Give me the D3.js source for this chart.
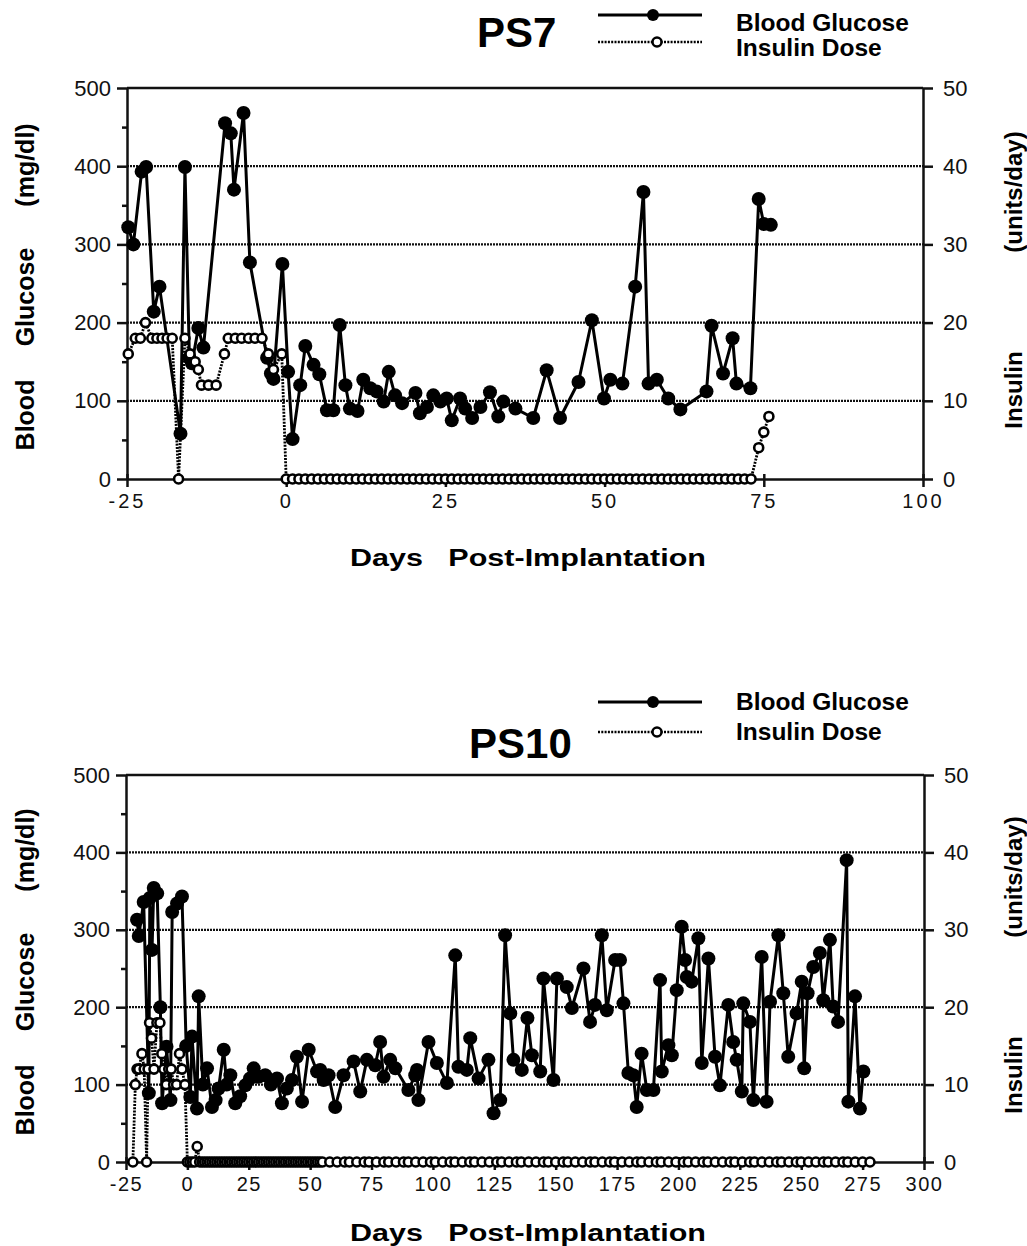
<!DOCTYPE html>
<html>
<head>
<meta charset="utf-8">
<script src="https://d3js.org/d3.v7.min.js"></script>
<style>
body{margin:0;background:#fff;}
svg{font-family:"Liberation Sans", Arial, Helvetica, sans-serif;}
.tick text{font-size:22px;fill:#111;}
.domain{stroke:#111;stroke-width:2.5;}
.tick line{stroke:#111;stroke-width:2.5;}
</style>
</head>
<body>
<svg id="chart" width="1027" height="1246"></svg>
<script>
// ---- PS7 ----
const ps7Glucose = [[-24.8,322],[-24,300],[-22.7,393],[-22,399],[-20.8,214],[-19.9,246],[-16.6,58],[-15.9,399],[-15.2,155],[-14.8,148],[-13.8,193],[-13,168],[-9.6,455],[-8.7,442],[-8.2,370],[-6.7,468],[-5.7,277],[-3,155],[-2.4,135],[-2,128],[-0.6,275],[0.3,137],[1,51],[2.2,120],[3,170],[4.3,146],[5.2,134],[6.4,88],[7.4,88],[8.4,197],[9.3,120],[10,90],[11.2,87],[12.1,127],[13.2,116],[14.2,112],[15.3,99],[16.1,137],[17.1,107],[18.2,97],[20.3,110],[21,84],[22.1,92],[23.1,107],[24.2,99],[25.2,103],[26,75],[27.3,103],[28.1,90],[29.2,78],[30.5,92],[32,111],[33.3,80],[34.1,99],[36,90],[38.8,78],[40.9,139],[43,78],[45.9,124],[48,203],[49.9,103],[50.9,127],[52.8,122],[54.8,246],[56.1,367],[56.9,122],[58.2,127],[60,103],[61.9,89],[66,112],[66.8,196],[68.6,135],[70.1,180],[70.7,122],[72.9,116],[74.2,358],[75,326],[76.1,325]];
const ps7InsulinPre = [[-24.8,16],[-23.7,18],[-22.9,18],[-22.1,20],[-21.1,18],[-20.3,18],[-19.5,18],[-18.7,18],[-17.9,18],[-16.9,0],[-15.9,18],[-15.1,16],[-14.3,15],[-13.8,14],[-13.3,12],[-12.2,12],[-11,12],[-9.7,16],[-9.1,18],[-8,18],[-7,18],[-5.9,18],[-4.9,18],[-3.8,18],[-2.8,16],[-2,14],[-0.7,16],[0,0]];
const ps7InsulinZeroDays = [1,2,3,4,5,6,7,8,9,10,11,12,13,14,15,16,17,18,19,20,21,22,23,24,25,26,27,28,29,30,31,32,33,34,35,36,37,38,39,40,41,42,43,44,45,46,47,48,49,50,51,52,53,54,55,56,57,58,59,60,61,62,63,64,65,66,67,68,69,70,71,72,73];
const ps7InsulinPost = [[74.2,4],[75,6],[75.8,8]];
const ps7XTicks = [-25,0,25,50,75,100];

// ---- PS10 ----
const ps10Glucose = [[-20.5,313],[-19.8,292],[-17.8,336],[-15.7,89],[-15.3,341],[-14.4,274],[-13.7,354],[-12.3,347],[-11,200],[-10.3,76],[-8.5,149],[-6.9,80],[-6.2,323],[-4.2,334],[-2.2,343],[-0.5,150],[1.2,84],[1.9,162],[3.9,69],[4.6,214],[6.3,100],[8,121],[10,71],[11.5,80],[12.7,95],[14.8,145],[16,100],[17.5,112],[19.5,76],[21.5,85],[23.6,99],[25.5,108],[27,121],[29,110],[31.7,112],[34,100],[36.5,108],[38.5,76],[40.5,95],[42.6,106],[44.6,136],[46.7,78],[49.4,145],[52.8,117],[54.1,119],[55.5,106],[57.5,112],[60.2,71],[63.6,112],[67.7,130],[70.4,91],[73.1,132],[76.5,125],[78.5,155],[79.9,110],[82.6,132],[84.7,121],[90,93],[92.8,112],[93.5,119],[94.1,80],[98.2,155],[101.6,128],[105.7,102],[109.1,267],[110.4,123],[113.8,119],[115.2,160],[118.6,108],[122.6,132],[124.7,63],[127.4,80],[129.4,293],[131.5,192],[132.8,132],[136.2,119],[138.5,186],[140.3,138],[143.7,117],[145,237],[149.1,106],[150.5,237],[154.5,226],[156.6,199],[161.3,250],[164,181],[166,203],[168.8,293],[170.8,196],[174.2,261],[176.2,261],[177.6,205],[179.6,115],[181.6,112],[183,71],[185,140],[187.1,93],[189.8,93],[192.5,235],[193.2,117],[195.9,151],[197.3,138],[199.3,222],[201.3,304],[202.7,261],[203.4,239],[205.4,233],[208.1,289],[209.5,128],[212.2,263],[214.9,136],[216.9,99],[220.3,203],[222.3,155],[223.7,132],[225.8,91],[226.4,205],[229.1,181],[230.5,80],[233.9,265],[235.9,78],[237.3,207],[240.7,293],[242.7,218],[244.7,136],[248.1,192],[250.2,233],[251.2,121],[252.6,218],[254.9,252],[257.6,270],[259,209],[261.7,287],[263,201],[265,181],[268.5,390],[269.2,78],[271.9,214],[273.9,69],[275.3,117]];
const ps10InsulinPre = [[-22.2,0],[-21.2,10],[-20.5,12],[-19.8,12],[-18.5,14],[-17.6,12],[-16.6,0],[-16,12],[-15.4,18],[-14.6,16],[-13.6,12],[-12.4,18],[-11.2,18],[-10.4,14],[-9.6,12],[-8.6,10],[-7.6,12],[-6.6,12],[-5.6,10],[-4.4,10],[-3.2,14],[-2.2,12],[-1,10],[0,0],[1,0],[2,0],[3,0],[4,2]];
const ps10InsulinZeroDays = [5,6,7,8,9,10,11,12,13,14,15,16,17,18,19,20,21,22,23,24,25,26,27,28,29,30,31,32,33,34,35,36,37,38,39,40,41,42,43,44,45,46,47,48,49,50,51,52,53,54,55,58,61,64,66,69,72,74,77,80,82,85,88,90,93,96,99,101,104,107,109,112,115,117,120,123,126,128,131,134,136,139,142,145,147,150,153,155,158,161,164,166,169,172,174,177,180,183,185,188,191,193,196,199,202,204,207,210,212,215,218,221,223,226,229,231,234,237,240,242,245,248,250,253,256,259,261,264,267,269,272,275,278];
const ps10XTicks = [-25,0,25,50,75,100,125,150,175,200,225,250,275,300];

const glucoseTicks = [0,100,200,300,400,500];
const insulinTicks = [0,10,20,30,40,50];
const gridValues = [100,200,300,400];

const svg = d3.select("#chart");

function drawPanel(p){
  const g = svg.append("g");
  const x = d3.scaleLinear().domain(p.xDomain).range([p.left, p.right]);
  const y = d3.scaleLinear().domain([0,500]).range([p.bottom, p.top]);
  const yIns = d3.scaleLinear().domain([0,50]).range([p.bottom, p.top]);

  // dotted grid
  g.selectAll(".grid").data(gridValues).join("line")
    .attr("x1", p.left).attr("x2", p.right)
    .attr("y1", d => y(d)).attr("y2", d => y(d))
    .attr("stroke", "#111").attr("stroke-width", 2.2)
    .attr("stroke-dasharray", "2,1");
  // top border
  g.append("line").attr("x1", p.left).attr("x2", p.right)
    .attr("y1", y(500)).attr("y2", y(500))
    .attr("stroke", "#111").attr("stroke-width", 2.5);

  // left axis with minor ticks
  const minor = d3.range(0, 501, 50);
  const la = g.append("g").attr("transform", `translate(${p.left},0)`)
    .call(d3.axisLeft(y).tickValues(minor).tickSize(10).tickSizeOuter(0).tickPadding(6)
      .tickFormat(d => glucoseTicks.includes(d) ? d : ""));
  la.selectAll(".tick").filter(d => !glucoseTicks.includes(d)).select("line").attr("x2", -5);

  // right axis
  g.append("g").attr("transform", `translate(${p.right},0)`)
    .call(d3.axisRight(yIns).tickValues(insulinTicks).tickSize(10).tickSizeOuter(0).tickPadding(10));

  // bottom axis
  const xa = g.append("g").attr("transform", `translate(0,${p.bottom})`)
    .call(d3.axisBottom(x).tickValues(p.xTicks).tickSize(8).tickSizeOuter(0).tickPadding(7)
      .tickFormat(d => String(d)));
  xa.selectAll(".tick text").style("letter-spacing", p.xLetter + "px").style("font-size", "20px");
  xa.selectAll(".tick line").attr("y1", -5);

  // glucose
  const line = d3.line().x(d => x(d[0])).y(d => y(d[1]));
  g.append("path").datum(p.glucose).attr("d", line)
    .attr("fill", "none").attr("stroke", "#000").attr("stroke-width", 3).attr("stroke-linejoin", "round");
  g.selectAll(".gdot").data(p.glucose).join("circle")
    .attr("cx", d => x(d[0])).attr("cy", d => y(d[1])).attr("r", 7).attr("fill", "#000");

  // insulin
  const ins = p.insulinPre.concat(p.zeroDays.map(d => [d, 0]), p.insulinPost);
  const iline = d3.line().x(d => x(d[0])).y(d => yIns(d[1]));
  g.append("path").datum(ins).attr("d", iline)
    .attr("fill", "none").attr("stroke", "#000").attr("stroke-width", 2.8).attr("stroke-dasharray", "2,1.3");
  g.selectAll(".idot").data(ins).join("circle")
    .attr("cx", d => x(d[0])).attr("cy", d => yIns(d[1])).attr("r", 4.5)
    .attr("fill", "#fff").attr("stroke", "#000").attr("stroke-width", 2.6);

  // axis titles
  g.append("text").attr("x", p.titleX).attr("y", p.xTitleY).attr("text-anchor", "middle")
    .attr("font-size", 23).attr("font-weight", "bold").attr("textLength", 356).attr("lengthAdjust", "spacingAndGlyphs")
    .text("Days   Post-Implantation").style("white-space", "pre");
  const leftWords = [["Blood", 415], ["Glucose", 297], ["(mg/dl)", 165]];
  leftWords.forEach(([w, cy]) => {
    g.append("text").attr("transform", `translate(34,${cy + p.shift}) rotate(-90)`)
      .attr("text-anchor", "middle").attr("font-size", 25).attr("font-weight", "bold").text(w);
  });
  const rightWords = [["Insulin", 390], ["(units/day)", 192]];
  rightWords.forEach(([w, cy]) => {
    g.append("text").attr("transform", `translate(1022,${cy + p.shift}) rotate(-90)`)
      .attr("text-anchor", "middle").attr("font-size", 24).attr("font-weight", "bold").text(w);
  });

  // legend
  const L = p.legend;
  svg.append("text").attr("x", L.titleX).attr("y", L.titleY).attr("font-size", 42).attr("font-weight", "bold").text(p.name);
  svg.append("line").attr("x1", 598).attr("x2", 702).attr("y1", L.y1).attr("y2", L.y1).attr("stroke", "#000").attr("stroke-width", 3);
  svg.append("circle").attr("cx", 653).attr("cy", L.y1).attr("r", 6).attr("fill", "#000");
  svg.append("line").attr("x1", 598).attr("x2", 702).attr("y1", L.y2).attr("y2", L.y2).attr("stroke", "#000").attr("stroke-width", 2.5).attr("stroke-dasharray", "2,1.3");
  svg.append("circle").attr("cx", 657).attr("cy", L.y2).attr("r", 4.5).attr("fill", "#fff").attr("stroke", "#000").attr("stroke-width", 2.5);
  svg.append("text").attr("x", 736).attr("y", L.t1).attr("font-size", 24.5).attr("font-weight", "bold").text("Blood Glucose");
  svg.append("text").attr("x", 736).attr("y", L.t2).attr("font-size", 24.5).attr("font-weight", "bold").text("Insulin Dose");
}

drawPanel({name:"PS7", xDomain:[-25,100], left:127, right:923, top:88, bottom:479, xTicks:ps7XTicks, xLetter:3,
  glucose:ps7Glucose, insulinPre:ps7InsulinPre, zeroDays:ps7InsulinZeroDays, insulinPost:ps7InsulinPost,
  titleX:528, xTitleY:566, shift:0,
  legend:{titleX:477, titleY:47, y1:15, y2:42, t1:31, t2:56}});

drawPanel({name:"PS10", xDomain:[-25,300], left:126, right:924, top:775, bottom:1162, xTicks:ps10XTicks, xLetter:1.5,
  glucose:ps10Glucose, insulinPre:ps10InsulinPre, zeroDays:ps10InsulinZeroDays, insulinPost:[],
  titleX:528, xTitleY:1241, shift:685,
  legend:{titleX:469, titleY:758, y1:702, y2:732, t1:710, t2:740}});
</script>
</body>
</html>
